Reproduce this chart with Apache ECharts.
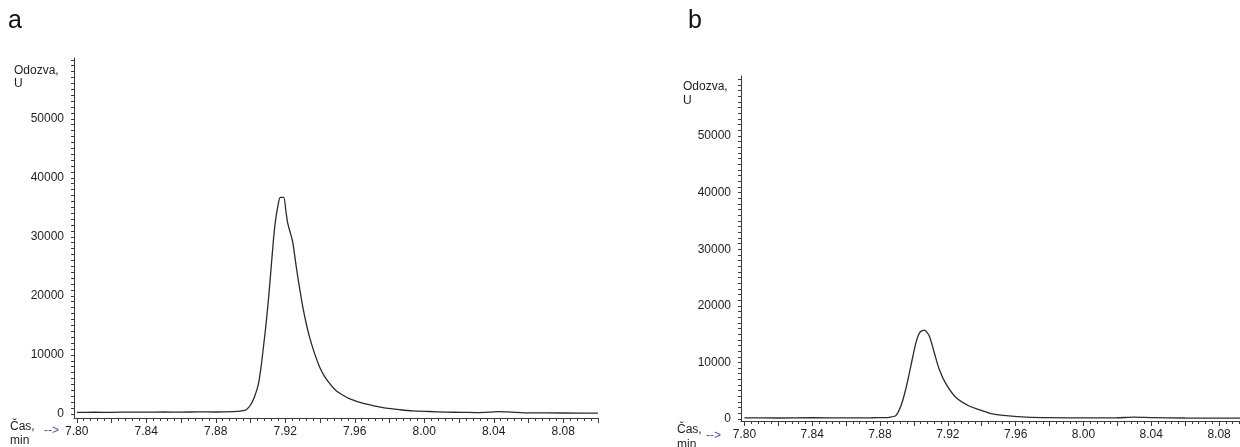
<!DOCTYPE html>
<html>
<head>
<meta charset="utf-8">
<script src="https://cdn.jsdelivr.net/npm/echarts@6/dist/echarts.min.js"></script>
<style>
  html, body { margin: 0; padding: 0; background: #fff; }
  #chart { width: 1240px; height: 447px; }
</style>
</head>
<body>
<div id="chart"></div>
<script>
// Chromatogram a: retention time (min) and detector response (U)
const timeA = [7.800, 7.810, 7.820, 7.830, 7.840, 7.850, 7.860, 7.870, 7.880, 7.890,
  7.8950, 7.8975, 7.9000, 7.9023, 7.9045, 7.9061, 7.9075, 7.9090, 7.9105, 7.9119,
  7.9132, 7.9144, 7.9158, 7.9171, 7.9191, 7.9203, 7.9214, 7.9228, 7.9243, 7.9258,
  7.9272, 7.9287, 7.9301, 7.9320, 7.9339, 7.9368, 7.9397, 7.9425, 7.9454, 7.9490,
  7.9530, 7.9569, 7.9645, 7.9720, 7.9780, 7.9860, 7.9933, 8.0030, 8.0125, 8.0220,
  8.0316, 8.0380, 8.0431, 8.0500, 8.0603, 8.0800, 8.1000];
const responseA = [250, 280, 260, 300, 280, 320, 300, 330, 320, 380,
  500, 700, 1500, 2900, 5000, 8000, 11500, 15400, 20000, 24900,
  29500, 32800, 35300, 36700, 36700, 34500, 32300, 30800, 29100, 26000,
  23200, 20500, 18100, 15400, 13100, 10300, 8000, 6400, 5200, 4000,
  3200, 2600, 1800, 1300, 960, 700, 510, 400, 300, 260,
  220, 300, 390, 300, 170, 150, 120];

// Chromatogram b
const timeB = [7.800, 7.820, 7.840, 7.860, 7.875, 7.8820, 7.8854, 7.8893, 7.8923, 7.8952,
  7.8982, 7.9012, 7.9035, 7.9061, 7.9090, 7.9120, 7.9149, 7.9189, 7.9248, 7.9326,
  7.9405, 7.9462, 7.9560, 7.9663, 7.9800, 8.0000, 8.0200, 8.0300, 8.0400, 8.0600,
  8.0800, 8.1000];
const responseB = [200, 180, 220, 200, 220, 250, 300, 600, 2300, 5300,
  9400, 13500, 15300, 15700, 14700, 11700, 8800, 6200, 3800, 2300,
  1450, 900, 550, 350, 250, 200, 220, 320, 250, 180,
  160, 150];

// Axis ticks and labels
const timeLabels = [7.80, 7.84, 7.88, 7.92, 7.96, 8.00, 8.04, 8.08];
const timeMajorTicks = [7.80, 7.82, 7.84, 7.86, 7.88, 7.90, 7.92, 7.94, 7.96, 7.98, 8.00, 8.02, 8.04, 8.06, 8.08, 8.10];
const timeMinorStep = 0.004;
const responseLabels = [0, 10000, 20000, 30000, 40000, 50000];
const responseTickStep = 1000;
const responseTickMax = 60000;

const minorTimeTicks = [];
for (let i = 0; i <= 75; i++) minorTimeTicks.push(+(7.80 + i * timeMinorStep).toFixed(3));
const responseTicks = [];
for (let v = 0; v <= responseTickMax; v += responseTickStep) responseTicks.push(v);

const FONT = "'Liberation Sans', Arial, sans-serif";
const AXIS_COLOR = '#3a3a3a';
const TEXT_COLOR = '#1e1e1e';

function pairs(xs, ys) { return xs.map((x, i) => [x, ys[i]]); }

function xAxesFor(grid, min, max) {
  return [
    {
      type: 'value', gridIndex: grid, position: 'bottom', min: min, max: max,
      axisLine: { show: true, onZero: false, lineStyle: { color: AXIS_COLOR, width: 1 } },
      axisTick: { show: true, length: 5, customValues: timeMajorTicks, lineStyle: { color: AXIS_COLOR } },
      axisLabel: {
        show: true, customValues: timeLabels, margin: 8,
        formatter: v => v.toFixed(2),
        color: TEXT_COLOR, fontFamily: FONT, fontSize: 12
      },
      splitLine: { show: false }
    },
    {
      type: 'value', gridIndex: grid, position: 'bottom', min: min, max: max,
      axisLine: { show: false, onZero: false },
      axisTick: { show: true, length: 3, customValues: minorTimeTicks, lineStyle: { color: AXIS_COLOR } },
      axisLabel: { show: false },
      splitLine: { show: false }
    }
  ];
}

function yAxisFor(grid, min, max) {
  return {
    type: 'value', gridIndex: grid, min: min, max: max,
    axisLine: { show: true, onZero: false, lineStyle: { color: AXIS_COLOR, width: 1 } },
    axisTick: { show: true, length: 3, customValues: responseTicks, lineStyle: { color: AXIS_COLOR } },
    axisLabel: {
      show: true, customValues: responseLabels, margin: 10,
      formatter: v => String(Math.round(v)),
      color: TEXT_COLOR, fontFamily: FONT, fontSize: 12
    },
    splitLine: { show: false }
  };
}

function txt(x, y, text, size, color) {
  return {
    type: 'text', x: x, y: y, silent: true,
    style: { text: text, font: size + 'px ' + FONT, fill: color || TEXT_COLOR, align: 'left', verticalAlign: 'middle' }
  };
}

const traceStyle = { color: '#2b2b2b', width: 1.3 };

const option = {
  animation: false,
  backgroundColor: '#ffffff',
  grid: [
    { left: 74, right: 642, top: 58, bottom: 29, containLabel: false, outerBoundsMode: 'none' },
    { left: 741, right: -13, top: 76, bottom: 26, containLabel: false, outerBoundsMode: 'none' }
  ],
  xAxis: [].concat(xAxesFor(0, 7.7984, 8.10), xAxesFor(1, 7.798, 8.10)),
  yAxis: [yAxisFor(0, -700, 60300), yAxisFor(1, -350, 60600)],
  series: [
    {
      type: 'line', xAxisIndex: 0, yAxisIndex: 0, data: pairs(timeA, responseA),
      showSymbol: false, smooth: 0.25, lineStyle: traceStyle, clip: true
    },
    {
      type: 'line', xAxisIndex: 2, yAxisIndex: 1, data: pairs(timeB, responseB),
      showSymbol: false, smooth: 0.25, lineStyle: traceStyle, clip: true
    }
  ],
  graphic: [
    txt(8, 21, 'a', 25, '#111'),
    txt(14, 71, 'Odozva,', 12),
    txt(14, 84, 'U', 12),
    txt(10, 427, 'Čas,', 12),
    txt(10, 441, 'min', 12),
    txt(44, 431, '-->', 12, '#5050a8'),

    txt(688, 21, 'b', 25, '#111'),
    txt(683, 87, 'Odozva,', 12),
    txt(683, 101, 'U', 12),
    txt(677, 430, 'Čas,', 12),
    txt(677, 445, 'min', 12),
    txt(706, 436, '-->', 12, '#5050a8')
  ]
};

const chart = echarts.init(document.getElementById('chart'), null, { renderer: 'canvas' });
chart.setOption(option);
</script>
</body>
</html>
